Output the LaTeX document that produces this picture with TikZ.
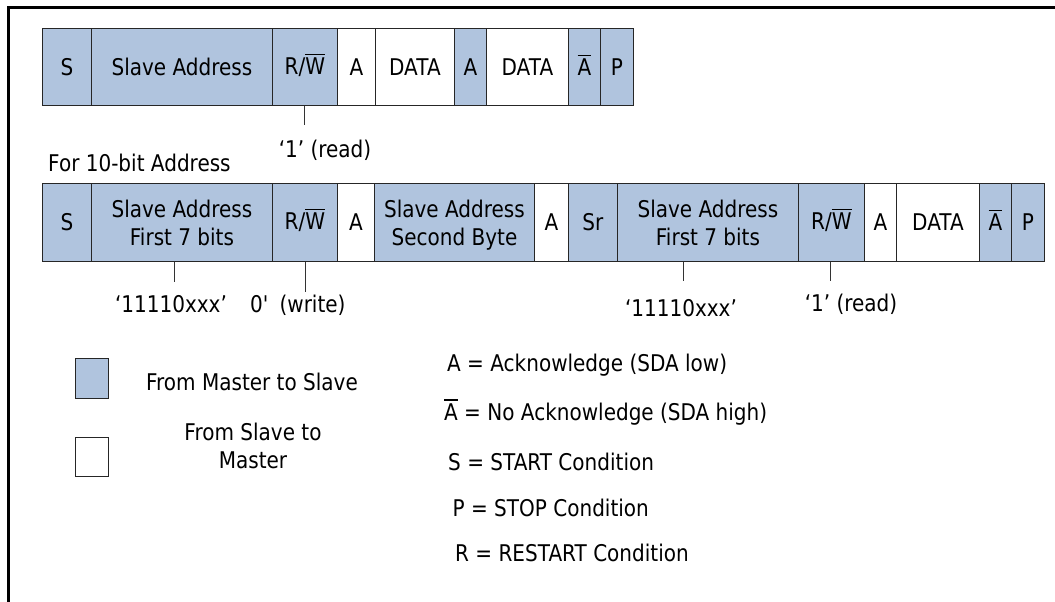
\documentclass[tikz,border=0pt]{standalone}
\usepackage{fontspec}
\setmainfont{DejaVu Sans}[FakeStretch=0.87]
\definecolor{sblue}{RGB}{176,196,222}
\newcommand\myovl[1]{\leavevmode\smash{\vbox{\hrule height 1.3pt\kern 2.6pt\hbox{#1}}}\vphantom{#1}}
\begin{document}
\begin{tikzpicture}[x=1pt,y=-1pt,
  font=\fontsize{23}{28}\selectfont,
  fld/.style={draw=black!85, line width=0.9pt, inner sep=0pt, anchor=north west, align=center},
  m2s/.style={fld, fill=sblue},
  s2m/.style={fld, fill=white},
  rowa/.style={minimum height=77pt},
  rowb/.style={minimum height=78pt},
  leader/.style={draw=black!80, line width=0.9pt},
  lbl/.style={inner sep=0pt, anchor=base}
]
\useasboundingbox (0,0) rectangle (1055,602);
% frame
\draw[line width=2.2pt] (8.5,602) -- (8.5,7.5) -- (1055,7.5);

% ---- row 1 (7-bit address) ----
\node[m2s, rowa, minimum width=49pt]  (s1)  at (42,28)  {S};
\node[m2s, rowa, minimum width=181pt] (sa1) at (91,28)  {Slave Address};
\node[m2s, rowa, minimum width=65pt]  (rw1) at (272,28) {R/\myovl{W}};
\node[s2m, rowa, minimum width=38pt]  (a1)  at (337,28) {A};
\node[s2m, rowa, minimum width=79pt]  (d1)  at (375,28) {DATA};
\node[m2s, rowa, minimum width=32pt]  (a2)  at (454,28) {A};
\node[s2m, rowa, minimum width=82pt]  (d2)  at (486,28) {DATA};
\node[m2s, rowa, minimum width=32pt]  (na1) at (568,28) {\myovl{A}};
\node[m2s, rowa, minimum width=33pt]  (p1)  at (600,28) {P};

\coordinate (t1) at (304.5,125);
\draw[leader] (t1 |- rw1.south) -- (t1);
\node[lbl] (r1) at (325,157) {‘1’ (read)};

\node[lbl, anchor=base west] (ten) at (48,171) {For 10-bit Address};

% ---- row 2 (10-bit address) ----
\node[m2s, rowb, minimum width=49pt]  (s2)  at (42,183)  {S};
\node[m2s, rowb, minimum width=181pt] (sb1) at (91,183)  {Slave Address\\First 7 bits};
\node[m2s, rowb, minimum width=65pt]  (rw2) at (272,183) {R/\myovl{W}};
\node[s2m, rowb, minimum width=37pt]  (a3)  at (337,183) {A};
\node[m2s, rowb, minimum width=160pt] (sb2) at (374,183) {Slave Address\\Second B\smash{y}te};
\node[s2m, rowb, minimum width=34pt]  (a4)  at (534,183) {A};
\node[m2s, rowb, minimum width=49pt]  (sr)  at (568,183) {Sr};
\node[m2s, rowb, minimum width=181pt] (sb3) at (617,183) {Slave Address\\First 7 bits};
\node[m2s, rowb, minimum width=66pt]  (rw3) at (798,183) {R/\myovl{W}};
\node[s2m, rowb, minimum width=32pt]  (a5)  at (864,183) {A};
\node[s2m, rowb, minimum width=83pt]  (d3)  at (896,183) {DATA};
\node[m2s, rowb, minimum width=32pt]  (na2) at (979,183) {\myovl{A}};
\node[m2s, rowb, minimum width=33pt]  (p2)  at (1011,183) {P};

\coordinate (t2) at (174,282);
\coordinate (t3) at (305,292);
\coordinate (t4) at (683,281);
\coordinate (t5) at (830,281);
\draw[leader] (t2 |- sb1.south) -- (t2);
\draw[leader] (t3 |- rw2.south) -- (t3);
\draw[leader] (t4 |- sb3.south) -- (t4);
\draw[leader] (t5 |- rw3.south) -- (t5);

\node[lbl] (x1) at (171,312)   {‘11110xxx’};
\node[lbl, anchor=base west] (w0) at (250,312) {0\textquotesingle\hspace{0.45em}(write)};
\node[lbl] (x2) at (681,316.5) {‘11110xxx’};
\node[lbl] (r2) at (851,311.5) {‘1’ (read)};

% ---- legend ----
\node[m2s, minimum width=33pt, minimum height=40pt] (lgm) at (75,358) {};
\node[s2m, minimum width=33pt, minimum height=39pt] (lgs) at (75,437) {};
\node[lbl] (lgmt) at (252,390) {From Master to Slave};
\node[align=center, inner sep=0pt] (lgst) at (253,446) {From Slave to\\Master};

\node[lbl, anchor=base west] (ka)  at (447,371.7) {A = Acknowledge (SDA low)};
\node[lbl, anchor=base west] (kna) at (444,420)   {\myovl{A} = No Acknowledge (SDA high)};
\node[lbl, anchor=base west] (ks)  at (448,470)   {S = START Condition};
\node[lbl, anchor=base west] (kp)  at (452.5,516.7) {P = STOP Condition};
\node[lbl, anchor=base west] (kr)  at (455,561)   {R = RESTART Condition};
\end{tikzpicture}
\end{document}
